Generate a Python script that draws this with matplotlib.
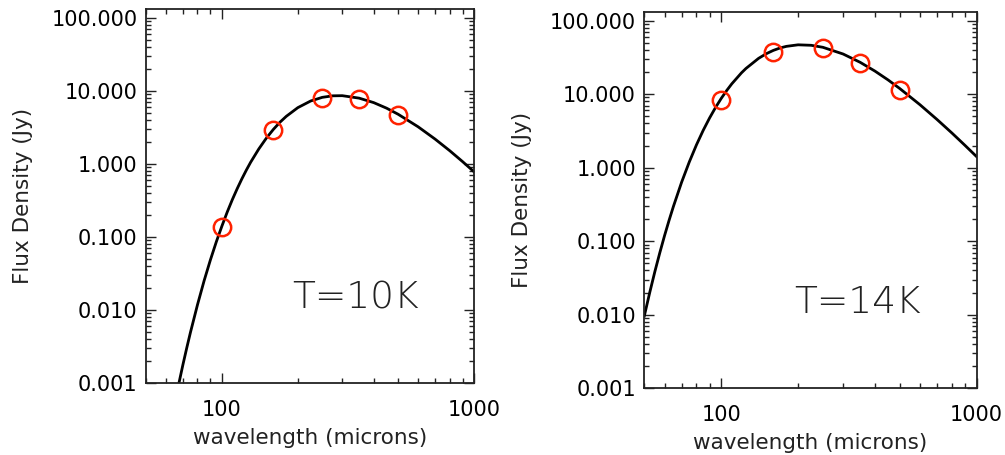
import matplotlib
matplotlib.use("Agg")
import matplotlib.pyplot as plt
from matplotlib.ticker import FuncFormatter, NullFormatter, LogLocator

# measured flux points (Jy) at the five bands
bands = [100, 160, 250, 350, 500]
flux_10k = [0.138, 2.95, 8.0, 7.85, 4.73]
flux_14k = [8.34, 37.9, 42.1, 26.3, 11.4]

# fitted curve
wave_10k = [65, 67.5, 70, 72.5, 75, 80, 85, 90, 95, 100, 105, 110, 115, 120, 125,
            130, 140, 150, 160, 170, 180, 200, 225, 250, 275, 300, 350, 400, 450,
            500, 600, 700, 800, 900, 1000]
curve_10k = [5.26e-4, 9.89e-4, 1.77e-3, 3.01e-3, 4.92e-3, 0.0118, 0.0252, 0.0484,
             0.0857, 0.141, 0.2198, 0.325, 0.459, 0.625, 0.823, 1.054, 1.60, 2.25,
             2.97, 3.73, 4.48, 5.89, 7.27, 8.15, 8.55, 8.59, 7.95, 6.90, 5.79,
             4.78, 3.22, 2.19, 1.52, 1.076, 0.779]

wave_14k = [50, 52.5, 55, 57.5, 60, 62.5, 65, 70, 75, 80, 85, 90, 95, 100, 105,
            110, 120, 125, 140, 150, 160, 170, 180, 200, 225, 250, 300, 350, 400,
            450, 500, 600, 700, 800, 900, 1000]
curve_14k = [0.00961, 0.02003, 0.0387, 0.0697, 0.1188, 0.192, 0.297, 0.635, 1.195,
             2.04, 3.21, 4.72, 6.57, 8.73, 11.15, 13.79, 19.44, 22.32, 30.6, 35.37,
             39.3, 42.4, 44.6, 46.8, 46.1, 43.3, 35.1, 27.05, 20.53, 15.59, 11.91,
             7.17, 4.51, 2.96, 2.01, 1.41]

labels = ["T=10K", "T=14K"]

fig = plt.figure(figsize=(10.05, 4.55), dpi=100)
boxes = [[0.1453, 0.1582, 0.3264, 0.8220], [0.6411, 0.1466, 0.3307, 0.8277]]
ylab_x = [-0.345, -0.339]
xlab_y = [-0.12, -0.118]

for i, (wl, cv, fl) in enumerate([(wave_10k, curve_10k, flux_10k),
                                  (wave_14k, curve_14k, flux_14k)]):
    ax = fig.add_axes(boxes[i])
    ax.plot(wl, cv, color="black", lw=2.0, zorder=2)
    ax.plot(bands, fl, "o", mfc="none", mec="#ff2200", ms=12.5, mew=1.8, zorder=3)
    ax.set_xscale("log")
    ax.set_yscale("log")
    ax.set_xlim(50, 1000)
    ax.set_ylim(0.001, 132)

    ax.yaxis.set_major_locator(LogLocator(base=10, numticks=10))
    ax.yaxis.set_major_formatter(FuncFormatter(lambda v, p: f"{v:.3f}"))
    ax.xaxis.set_major_formatter(FuncFormatter(lambda v, p: f"{v:.0f}"))
    ax.xaxis.set_minor_formatter(NullFormatter())
    ax.yaxis.set_minor_formatter(NullFormatter())

    ax.tick_params(which="both", direction="in", top=True, right=True,
                   color="#222222", labelsize=15)
    ax.tick_params(which="major", length=7, width=1.0)
    ax.tick_params(which="minor", length=3.5, width=1.0)
    ax.tick_params(axis="x", which="major", pad=12)
    ax.tick_params(axis="y", which="major", pad=6)
    for s in ax.spines.values():
        s.set_color("#222222")
        s.set_linewidth(1.3)

    ax.set_ylabel("Flux Density (Jy)", fontsize=15.5, color="#222222")
    ax.set_xlabel("wavelength (microns)", fontsize=15.5, color="#222222")
    ax.yaxis.set_label_coords(ylab_x[i], 0.5)
    ax.xaxis.set_label_coords(0.5, xlab_y[i])

    ax.text(0.64, 0.227, labels[i], transform=ax.transAxes, fontsize=27,
            ha="center", va="center", color="#222222", fontweight="light")

fig.savefig("out.png", dpi=100)
